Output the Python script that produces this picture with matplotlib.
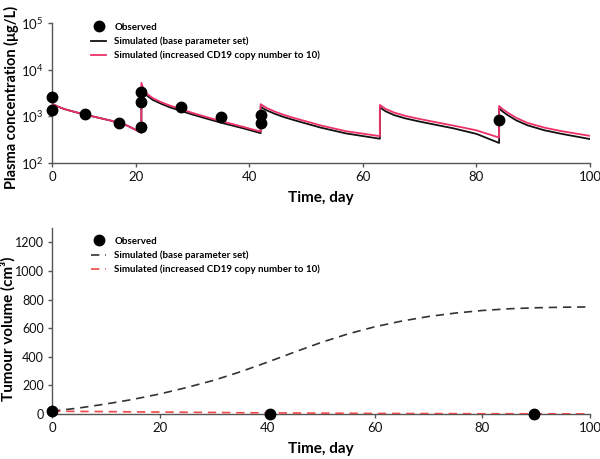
import numpy as np
import matplotlib
matplotlib.use("Agg")
import matplotlib.pyplot as plt
from matplotlib.ticker import FixedLocator, NullLocator

plt.rcParams['font.family'] = ['Lato', 'DejaVu Sans']
plt.rcParams['mathtext.fontset'] = 'custom'
plt.rcParams['mathtext.rm'] = 'Lato'

# --- plasma concentration panel ---
obs_days = [0, 0, 8, 16, 21, 21, 21, 28, 35, 42, 42, 84]
obs_conc = [2630, 1370, 1120, 720, 600, 3300, 2000, 1560, 960, 1070, 710, 835]

sim_days = [0, 1.5, 3, 6, 10, 14, 18, 21,
            21, 21.5, 22.2, 23, 24.5, 26, 28, 30, 32.5, 35, 39, 42,
            42, 43, 44.5, 46, 48, 50, 52.5, 57, 63,
            63, 64, 65.5, 67.5, 70, 73, 76, 80, 84,
            84, 84.6, 85.5, 87, 89, 92, 95, 100]
conc_base = [1850, 1600, 1420, 1200, 980, 810, 630, 445,
             3600, 3100, 2650, 2250, 1850, 1560, 1300, 1090, 890, 730, 550, 435,
             1600, 1350, 1130, 970, 820, 700, 575, 430, 330,
             1550, 1280, 1060, 900, 770, 650, 550, 420, 268,
             1480, 1270, 1060, 820, 640, 500, 420, 325]
conc_cd19 = [1850, 1600, 1420, 1200, 980, 810, 630, 445,
             5200, 3400, 2900, 2450, 2000, 1700, 1420, 1180, 960, 790, 590, 470,
             1820, 1520, 1260, 1080, 910, 780, 640, 480, 375,
             1750, 1440, 1200, 1020, 875, 740, 630, 500, 350,
             1660, 1430, 1200, 930, 720, 570, 480, 380]

# --- tumour volume panel ---
tum_obs_days = [0, 40.6, 89.6]
tum_obs_vol = [20, 0, 0]
tum_days = [0, 5, 10, 15, 20, 25, 30, 35, 40, 45, 50,
            55, 60, 65, 70, 75, 80, 85, 90, 95, 100]
vol_base = [20, 42, 70, 102, 140, 185, 235, 295, 362, 432, 500,
            560, 610, 650, 682, 706, 724, 736, 743, 747, 749]
vol_cd19 = [20, 18, 17, 15, 14, 12, 11, 9, 8, 7, 6,
            5, 4, 3.5, 3, 2.5, 2, 1.8, 1.5, 1.2, 1]

lbl_obs = 'Observed'
lbl_base = 'Simulated (base parameter set)'
lbl_cd19 = 'Simulated (increased CD19 copy number to 10)'

pink = '#ee3068'
axcol = '#555555'

# first 20 days are squeezed on the original x axis
k = 84 / 114
def fwd(x):
    x = np.asarray(x, dtype=float)
    return np.where(x < 20, x * k, 20 * k + (x - 20))
def inv(y):
    y = np.asarray(y, dtype=float)
    return np.where(y < 20 * k, y / k, y - 20 * k + 20)

fig = plt.figure(figsize=(6, 4.59), dpi=100)
ax1 = fig.add_axes([0.0867, 0.645, 0.8966, 0.305])
ax2 = fig.add_axes([0.0867, 0.098, 0.8966, 0.405])

def style(ax):
    for s in ['top', 'right']:
        ax.spines[s].set_visible(False)
    for s in ['left', 'bottom']:
        ax.spines[s].set_color(axcol)
        ax.spines[s].set_linewidth(1.0)
    ax.tick_params(direction='out', length=3, width=1, color=axcol,
                   labelsize=9.5, labelcolor='#111111', pad=3)

# top
ax1.plot(sim_days, conc_base, color='#111111', lw=1.3, label=lbl_base, zorder=2)
ax1.plot(sim_days, conc_cd19, color=pink, lw=1.3, label=lbl_cd19, zorder=3)
ax1.plot(obs_days, obs_conc, 'o', color='black', ms=7.5, label=lbl_obs,
         zorder=4, clip_on=False)
ax1.set_yscale('log')
ax1.set_xscale('function', functions=(fwd, inv))
ax1.set_xlim(0, 100)
ax1.set_ylim(1e2, 1e5)
ax1.xaxis.set_major_locator(FixedLocator([0, 20, 40, 60, 80, 100]))
ax1.xaxis.set_minor_locator(NullLocator())
ax1.yaxis.set_minor_locator(NullLocator())
style(ax1)
ax1.set_xlabel('Time, day', fontsize=11, fontweight='bold')
ax1.set_ylabel('Plasma concentration (μg/L)', fontsize=10.5, fontweight='bold')
ax1.xaxis.set_label_coords(0.5, -0.2)
ax1.yaxis.set_label_coords(-0.062, 0.47)
h, l = ax1.get_legend_handles_labels()
ax1.legend([h[2], h[0], h[1]], [l[2], l[0], l[1]], loc='upper left',
           bbox_to_anchor=(0.065, 1.03), frameon=False,
           prop={'weight': 'bold', 'size': 7}, handlelength=1.6,
           handletextpad=0.8, labelspacing=0.5, borderaxespad=0)

# bottom
ax2.plot(tum_days, vol_base, color='#333333', lw=1.2, ls=(0, (5, 3.5)),
         label=lbl_base, zorder=2)
ax2.plot(tum_days, vol_cd19, color='#f04848', lw=1.2, ls=(0, (5, 3.5)),
         label=lbl_cd19, zorder=3)
ax2.plot(tum_obs_days, tum_obs_vol, 'o', color='black', ms=7.5, label=lbl_obs,
         zorder=4, clip_on=False)
ax2.set_xlim(0, 100)
ax2.set_ylim(0, 1300)
ax2.set_xticks([0, 20, 40, 60, 80, 100])
ax2.set_yticks([0, 200, 400, 600, 800, 1000, 1200])
style(ax2)
ax2.tick_params(axis='y', labelsize=9)
ax2.set_xlabel('Time, day', fontsize=11, fontweight='bold')
ax2.set_ylabel('Tumour volume (cm³)', fontsize=11, fontweight='bold')
ax2.xaxis.set_label_coords(0.5, -0.15)
ax2.yaxis.set_label_coords(-0.068, 0.46)
h, l = ax2.get_legend_handles_labels()
ax2.legend([h[2], h[0], h[1]], [l[2], l[0], l[1]], loc='upper left',
           bbox_to_anchor=(0.065, 0.975), frameon=False,
           prop={'weight': 'bold', 'size': 7}, handlelength=1.6,
           handletextpad=0.8, labelspacing=0.5, borderaxespad=0)

fig.savefig('out.png', dpi=100)
